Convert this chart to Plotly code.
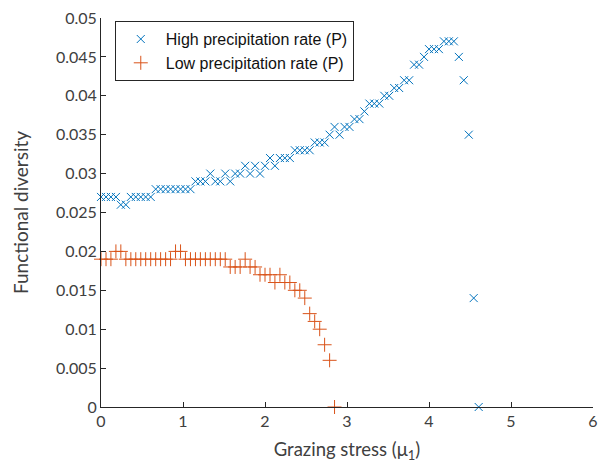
import plotly.graph_objects as go

# Grazing stress grid (mu_1)
mu_high = [0.000, 0.061, 0.121, 0.182, 0.242, 0.303, 0.364, 0.424, 0.485, 0.545,
           0.606, 0.667, 0.727, 0.788, 0.848, 0.909, 0.970, 1.030, 1.091, 1.152,
           1.212, 1.273, 1.333, 1.394, 1.455, 1.515, 1.576, 1.636, 1.697, 1.758,
           1.818, 1.879, 1.939, 2.000, 2.061, 2.121, 2.182, 2.242, 2.303, 2.364,
           2.424, 2.485, 2.545, 2.606, 2.667, 2.727, 2.788, 2.848, 2.909, 2.970,
           3.030, 3.091, 3.152, 3.212, 3.273, 3.333, 3.394, 3.455, 3.515, 3.576,
           3.636, 3.697, 3.758, 3.818, 3.879, 3.939, 4.000, 4.061, 4.121, 4.182,
           4.242, 4.303, 4.364, 4.424, 4.485, 4.545, 4.606]

fd_high = [0.027, 0.027, 0.027, 0.027, 0.026, 0.026, 0.027, 0.027, 0.027, 0.027,
           0.027, 0.028, 0.028, 0.028, 0.028, 0.028, 0.028, 0.028, 0.028, 0.029,
           0.029, 0.029, 0.030, 0.029, 0.029, 0.030, 0.029, 0.030, 0.030, 0.031,
           0.030, 0.031, 0.030, 0.031, 0.032, 0.031, 0.032, 0.032, 0.032, 0.033,
           0.033, 0.033, 0.033, 0.034, 0.034, 0.034, 0.035, 0.036, 0.035, 0.036,
           0.036, 0.037, 0.037, 0.038, 0.039, 0.039, 0.039, 0.040, 0.040, 0.041,
           0.041, 0.042, 0.042, 0.044, 0.044, 0.045, 0.046, 0.046, 0.046, 0.047,
           0.047, 0.047, 0.045, 0.042, 0.035, 0.014, 0.000]

mu_low = mu_high[:48]
fd_low = [0.019, 0.019, 0.019, 0.020, 0.020, 0.019, 0.019, 0.019, 0.019, 0.019,
          0.019, 0.019, 0.019, 0.019, 0.019, 0.020, 0.020, 0.019, 0.019, 0.019,
          0.019, 0.019, 0.019, 0.019, 0.019, 0.019, 0.018, 0.018, 0.018, 0.019,
          0.018, 0.018, 0.017, 0.017, 0.017, 0.016, 0.017, 0.016, 0.016, 0.015,
          0.015, 0.014, 0.012, 0.011, 0.010, 0.008, 0.006, 0.000]

x_ticks = [0, 1, 2, 3, 4, 5, 6]
y_ticks = [0, 0.005, 0.01, 0.015, 0.02, 0.025, 0.03, 0.035, 0.04, 0.045, 0.05]
y_tick_text = ["0", "0.005", "0.01", "0.015", "0.02", "0.025", "0.03",
               "0.035", "0.04", "0.045", "0.05"]

BLUE = "#0072BD"
ORANGE = "#D95319"
AX = "#404040"
LINE = "#262626"
FONT = "Lato, Open Sans, sans-serif"
LEG_FONT = "Liberation Sans"

fig = go.Figure()
fig.add_trace(go.Scatter(
    x=mu_high, y=fd_high, mode="markers", name="High precipitation rate (P)",
    marker=dict(symbol="x-thin", size=8, color=BLUE, line=dict(color=BLUE, width=1)),
    cliponaxis=False,
))
fig.add_trace(go.Scatter(
    x=mu_low, y=fd_low, mode="markers", name="Low precipitation rate (P)",
    marker=dict(symbol="cross-thin", size=10, color=ORANGE, line=dict(color=ORANGE, width=1)),
    cliponaxis=False,
))

fig.update_layout(
    width=606, height=464,
    margin=dict(l=101, r=8, t=17, b=57),
    paper_bgcolor="white", plot_bgcolor="white",
    font=dict(family=FONT, size=16, color=AX),
    showlegend=True,
    legend=dict(
        x=0.028, y=0.992, xanchor="left", yanchor="top",
        bgcolor="white", bordercolor=LINE, borderwidth=1,
        font=dict(family=LEG_FONT, size=16, color="#111111"),
        tracegroupgap=0, itemwidth=40,
    ),
)
fig.update_xaxes(
    range=[0, 6], tickvals=x_ticks, ticktext=[str(v) for v in x_ticks],
    showgrid=False, zeroline=False, showline=True, linecolor=LINE, linewidth=1,
    ticks="inside", ticklen=5, tickcolor=LINE, mirror=False,
    tickfont=dict(size=16, color=AX),
    title=dict(text="Grazing stress (μ<sub>1</sub>)", font=dict(size=18.5, color=AX), standoff=13),
)
fig.update_yaxes(
    range=[0, 0.05], tickvals=y_ticks, ticktext=y_tick_text,
    showgrid=False, zeroline=False, showline=True, linecolor=LINE, linewidth=1,
    ticks="inside", ticklen=5, tickcolor=LINE, mirror=False,
    tickfont=dict(size=16, color=AX),
    title=dict(text="Functional diversity", font=dict(size=19, color=AX), standoff=22),
)

fig.write_html("out.html")
